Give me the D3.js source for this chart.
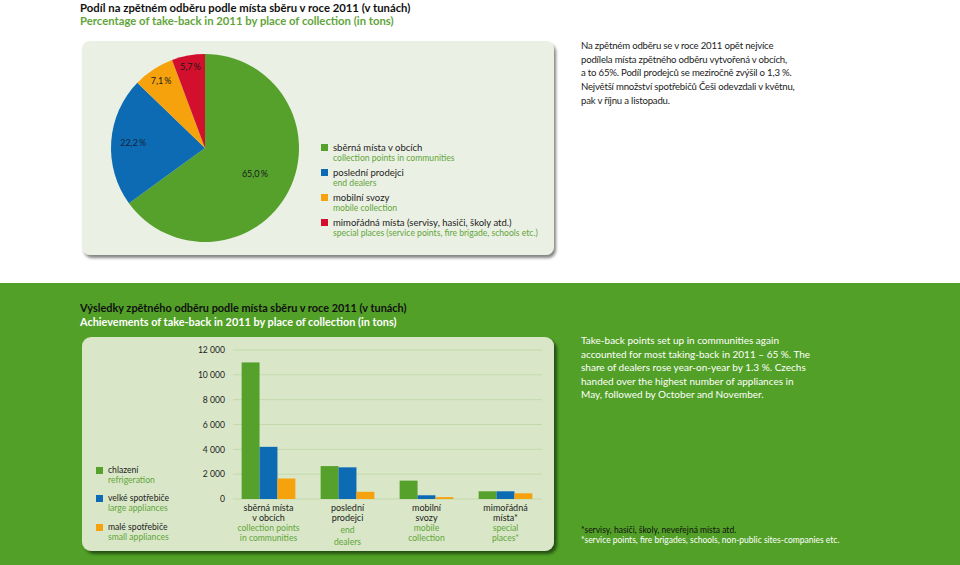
<!DOCTYPE html>
<html>
<head>
<meta charset="utf-8">
<style>
body{margin:0;background:#fff;}
svg{display:block;font-family:Lato,"Open Sans",sans-serif;}
</style>
</head>
<body>
<svg id="chart"></svg>
<script src="https://cdn.jsdelivr.net/npm/d3@7/dist/d3.min.js"></script>
<script>
// ---- data ----
const pieTitle = "Podíl na zpětném odběru podle místa sběru v roce 2011 (v tunách)";
const pieTitleEn = "Percentage of take-back in 2011 by place of collection (in tons)";
const pieCategories = ["sběrná místa v obcích", "poslední prodejci", "mobilní svozy", "mimořádná místa (servisy, hasiči, školy atd.)"];
const pieCategoriesEn = ["collection points in communities", "end dealers", "mobile collection", "special places (service points, fire brigade, schools etc.)"];
const pieShares = [65.0, 22.2, 7.1, 5.7];
const pieNote = [
  "Na zpětném odběru se v roce 2011 opět nejvíce",
  "podílela místa zpětného odběru vytvořená v obcích,",
  "a to 65%. Podíl prodejců se meziročně zvýšil o 1,3 %.",
  "Největší množství spotřebičů Češi odevzdali v květnu,",
  "pak v říjnu a listopadu."
];

const barTitle = "Výsledky zpětného odběru podle místa sběru v roce 2011 (v tunách)";
const barTitleEn = "Achievements of take-back in 2011 by place of collection (in tons)";
const barGroupsCz = [["sběrná místa", "v obcích"], ["poslední", "prodejci"], ["mobilní", "svozy"], ["mimořádná", "místa*"]];
const barGroupsEn = [["collection points", "in communities"], ["end", "dealers"], ["mobile", "collection"], ["special", "places*"]];
const seriesNames = ["chlazení", "velké spotřebiče", "malé spotřebiče"];
const seriesNamesEn = ["refrigeration", "large appliances", "small appliances"];
const refrigeration = [11000, 2650, 1480, 620];
const largeAppliances = [4200, 2550, 300, 620];
const smallAppliances = [1650, 580, 150, 460];
const yTicks = [0, 2000, 4000, 6000, 8000, 10000, 12000];
const barNote = [
  "Take-back points set up in communities again",
  "accounted for most taking-back in 2011 – 65 %. The",
  "share of dealers rose year-on-year by 1.3 %. Czechs",
  "handed over the highest number of appliances in",
  "May, followed by October and November."
];
const footnote = "*servisy, hasiči, školy, neveřejná místa atd.";
const footnoteEn = "*service points, fire brigades, schools, non-public sites-companies etc.";

// ---- setup ----
const width = 960, height = 565;
const colors = ["#55a12c", "#0c6bb3", "#f6a20d", "#d20f2c"];
const greenText = "#62a53a";
const dark = "#1c1c1c";
const cs = d3.formatLocale({decimal: ",", thousands: "\u00a0", grouping: [3], currency: ["", ""]});

const svg = d3.select("#chart").attr("width", width).attr("height", height);
const defs = svg.append("defs");
defs.append("filter").attr("id", "shadowGray").attr("x", "-5%").attr("y", "-5%").attr("width", "115%").attr("height", "120%")
  .append("feDropShadow").attr("dx", 2).attr("dy", 3).attr("stdDeviation", 1.5).attr("flood-color", "#666").attr("flood-opacity", 0.8);
defs.append("filter").attr("id", "shadowGreen").attr("x", "-5%").attr("y", "-5%").attr("width", "115%").attr("height", "120%")
  .append("feDropShadow").attr("dx", 3).attr("dy", 3).attr("stdDeviation", 1.5).attr("flood-color", "#1e4a0c").attr("flood-opacity", 0.9);

// ---- top part: pie ----
svg.append("text").attr("x", 80).attr("y", 12).attr("font-size", 11.3).attr("font-weight", 700).attr("fill", "#111").text(pieTitle);
svg.append("text").attr("x", 80).attr("y", 25).attr("font-size", 11.3).attr("font-weight", 700).attr("fill", greenText).text(pieTitleEn);

svg.append("rect").attr("x", 82).attr("y", 41).attr("width", 472).attr("height", 214).attr("rx", 8)
  .attr("fill", "#ebf0e4").attr("filter", "url(#shadowGray)");

const pieCx = 205, pieCy = 148, pieR = 94;
const pie = d3.pie().sort(null).value(d => d);
const arc = d3.arc().innerRadius(0).outerRadius(pieR);
const pieG = svg.append("g").attr("transform", `translate(${pieCx},${pieCy})`);
const arcs = pie(pieShares);
pieG.selectAll("path").data(arcs).join("path").attr("d", arc).attr("fill", (d, i) => colors[i]);

const labelR = [56, 72, 80, 82];
pieG.selectAll("text").data(arcs).join("text")
  .attr("transform", (d, i) => `translate(${d3.arc().innerRadius(labelR[i]).outerRadius(labelR[i]).centroid(d)})`)
  .attr("text-anchor", "middle").attr("dy", "0.35em")
  .attr("font-size", 9).attr("fill", (d, i) => i === 1 ? "#15243a" : "#1a1a1a")
  .text(d => cs.format(".1f")(d.data) + "\u2009%");

const pieLegend = svg.append("g").attr("transform", "translate(321,0)");
const legY = [148, 173, 198, 223];
pieCategories.forEach((c, i) => {
  pieLegend.append("rect").attr("x", 0).attr("y", legY[i] - 4).attr("width", 7).attr("height", 7).attr("fill", colors[i]);
  pieLegend.append("text").attr("x", 12).attr("y", legY[i] + 3).attr("font-size", 9.5).attr("fill", dark).text(c);
  pieLegend.append("text").attr("x", 12).attr("y", legY[i] + 13).attr("font-size", 8.6).attr("fill", greenText).text(pieCategoriesEn[i]);
});

svg.append("g").selectAll("text").data(pieNote).join("text")
  .attr("x", 581).attr("y", (d, i) => 49 + i * 13.7)
  .attr("font-size", 9.6).attr("letter-spacing", -0.2).attr("fill", dark).text(d => d);

// ---- bottom part: bars ----
svg.append("rect").attr("x", 0).attr("y", 283).attr("width", width).attr("height", height - 283).attr("fill", "#52a027");

svg.append("text").attr("x", 80).attr("y", 312).attr("font-size", 10.9).attr("font-weight", 700).attr("fill", "#111").text(barTitle);
svg.append("text").attr("x", 80).attr("y", 326).attr("font-size", 10.9).attr("font-weight", 700).attr("fill", "#fff").text(barTitleEn);

svg.append("rect").attr("x", 82).attr("y", 337).attr("width", 472).attr("height", 214).attr("rx", 9)
  .attr("fill", "#d9e7c8").attr("filter", "url(#shadowGreen)");

const y = d3.scaleLinear().domain([0, 12000]).range([499, 350]);
const x0 = d3.scaleBand().domain(d3.range(barGroupsCz.length)).range([229, 545]).paddingInner(0.32).paddingOuter(0.16);
const series = [refrigeration, largeAppliances, smallAppliances];
const x1 = d3.scaleBand().domain(d3.range(series.length)).range([0, x0.bandwidth()]);

const grid = svg.append("g");
grid.selectAll("line").data(yTicks).join("line")
  .attr("x1", 233).attr("x2", 542).attr("y1", d => y(d)).attr("y2", d => y(d))
  .attr("stroke", "#c3d9ac").attr("stroke-width", 1);

const yAxis = svg.append("g").attr("transform", "translate(233,0)")
  .call(d3.axisLeft(y).tickValues(yTicks).tickFormat(cs.format(",d")).tickSize(0).tickPadding(8));
yAxis.select(".domain").remove();
yAxis.selectAll("text").attr("font-size", 8.6).attr("fill", dark).attr("font-family", "Lato");

const groups = svg.append("g").selectAll("g").data(barGroupsCz).join("g")
  .attr("transform", (d, i) => `translate(${x0(i)},0)`);
groups.selectAll("rect").data((d, i) => series.map(s => s[i])).join("rect")
  .attr("x", (d, j) => x1(j)).attr("width", x1.bandwidth())
  .attr("y", d => y(d)).attr("height", d => y(0) - y(d))
  .attr("fill", (d, j) => colors[j]);

barGroupsCz.forEach((lines, i) => {
  const cx = x0(i) + x0.bandwidth() / 2;
  const shift = i === 1 ? 2 : 0;
  lines.forEach((t, k) => svg.append("text").attr("x", cx).attr("y", 511 + k * 10)
    .attr("text-anchor", "middle").attr("font-size", 9).attr("fill", dark).text(t));
  barGroupsEn[i].forEach((t, k) => svg.append("text").attr("x", cx).attr("y", 531 + shift + k * (10 + shift))
    .attr("text-anchor", "middle").attr("font-size", 8.6).attr("fill", greenText).text(t));
});

const barLegY = [470, 498, 527];
seriesNames.forEach((s, i) => {
  svg.append("rect").attr("x", 96).attr("y", barLegY[i] - 3).attr("width", 7).attr("height", 7).attr("fill", colors[i]);
  svg.append("text").attr("x", 108).attr("y", barLegY[i] + 3).attr("font-size", 8.6).attr("fill", dark).text(s);
  svg.append("text").attr("x", 108).attr("y", barLegY[i] + 13).attr("font-size", 8.6).attr("fill", greenText).text(seriesNamesEn[i]);
});

svg.append("g").selectAll("text").data(barNote).join("text")
  .attr("x", 581).attr("y", (d, i) => 344 + i * 13.6)
  .attr("font-size", 10).attr("fill", "#fff").text(d => d);

svg.append("text").attr("x", 581).attr("y", 533).attr("font-size", 8.5).attr("fill", "#111").text(footnote);
svg.append("text").attr("x", 581).attr("y", 543).attr("font-size", 8.5).attr("fill", "#fff").text(footnoteEn);
</script>
</body>
</html>
